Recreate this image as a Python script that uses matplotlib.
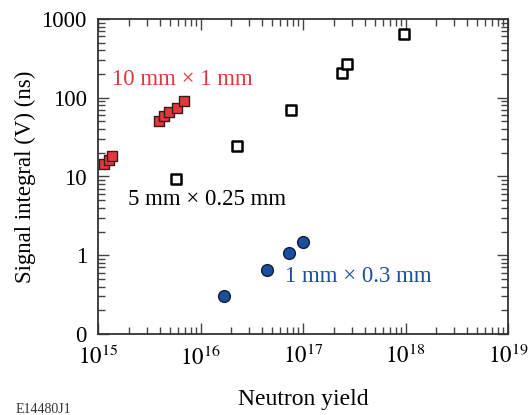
# senal integrada vs rendimiento de neutrones, tres detectores
import matplotlib
matplotlib.use('Agg')
import matplotlib.pyplot as plt
from matplotlib.ticker import LogLocator, FixedLocator, FixedFormatter

plt.rcParams['font.family'] = ['Liberation Serif', 'DejaVu Serif']
plt.rcParams['mathtext.fontset'] = 'stix'

# 10 mm x 1 mm (rojo)
rojo_x = [1.14e15, 1.27e15, 1.38e15, 3.96e15, 4.37e15, 4.93e15, 5.86e15, 6.9e15]
rojo_y = [14.6, 16.4, 18.4, 50, 58, 66, 75, 92]

# 5 mm x 0.25 mm (negro, abiertos)
negro_x = [5.76e15, 2.27e16, 7.6e16, 2.42e17, 2.7e17, 9.7e17]
negro_y = [9.4, 24.7, 69, 205, 267, 646]

# 1 mm x 0.3 mm (azul)
azul_x = [1.71e16, 4.43e16, 7.35e16, 1.0e17]
azul_y = [0.305, 0.655, 1.06, 1.49]

xticks = [1e15, 1e16, 1e17, 1e18, 1e19]
xlabels = [r'$10^{15}$', r'$10^{16}$', r'$10^{17}$', r'$10^{18}$', r'$10^{19}$']
yticks = [0.1, 1, 10, 100, 1000]
ylabels = ['0', '1', '10', '100', '1000']

rojo = '#e2373c'
azul = '#1b4f9c'

fig = plt.figure(figsize=(5.32, 4.15), dpi=100)
ax = fig.add_axes([98/532, 1 - 334/415, 410/532, 315/415])

ax.scatter(rojo_x, rojo_y, marker='s', s=62, facecolor=rojo, edgecolor='#3a1a1a', linewidth=1.0, zorder=3)
ax.scatter(negro_x, negro_y, marker='s', s=58, facecolor='white', edgecolor='black', linewidth=1.8, zorder=3)
ax.scatter(azul_x, azul_y, marker='o', s=72, facecolor=azul, edgecolor='#0d1f3a', linewidth=1.0, zorder=3)

ax.set_xscale('log')
ax.set_yscale('log')
ax.set_xlim(1e15, 1e19)
ax.set_ylim(0.1, 1000)

ax.xaxis.set_major_locator(FixedLocator(xticks))
ax.xaxis.set_major_formatter(FixedFormatter(xlabels))
ax.xaxis.set_minor_locator(LogLocator(base=10, subs=range(2, 10), numticks=20))
ax.yaxis.set_major_locator(FixedLocator(yticks))
ax.yaxis.set_major_formatter(FixedFormatter(ylabels))
ax.yaxis.set_minor_locator(LogLocator(base=10, subs=range(2, 10), numticks=20))
ax.xaxis.set_minor_formatter(FixedFormatter([]))
ax.yaxis.set_minor_formatter(FixedFormatter([]))

ax.tick_params(which='both', direction='in', top=True, right=True, color='#444444', width=1.0)
ax.tick_params(which='major', length=8, labelsize=16.5, pad=8)
ax.tick_params(which='minor', length=5)
for s in ax.spines.values():
    s.set_linewidth(1.3)
    s.set_color('#333333')

ax.set_xlabel('Neutron yield', fontsize=17, labelpad=14)
ax.set_ylabel('Signal integral (V) (ns)', fontsize=16.5, labelpad=4)

ax.text(1.37e15, 169, '10 mm × 1 mm', color=rojo, fontsize=16.5, va='center')
ax.text(1.96e15, 5.1, '5 mm × 0.25 mm', color='black', fontsize=16.5, va='center')
ax.text(6.7e16, 0.54, '1 mm × 0.3 mm', color=azul, fontsize=16.5, va='center')

fig.text(16/532, 1 - 409/415, 'E14480J1', fontsize=10, va='center', color='#333333')

fig.savefig('out.png', dpi=100)
